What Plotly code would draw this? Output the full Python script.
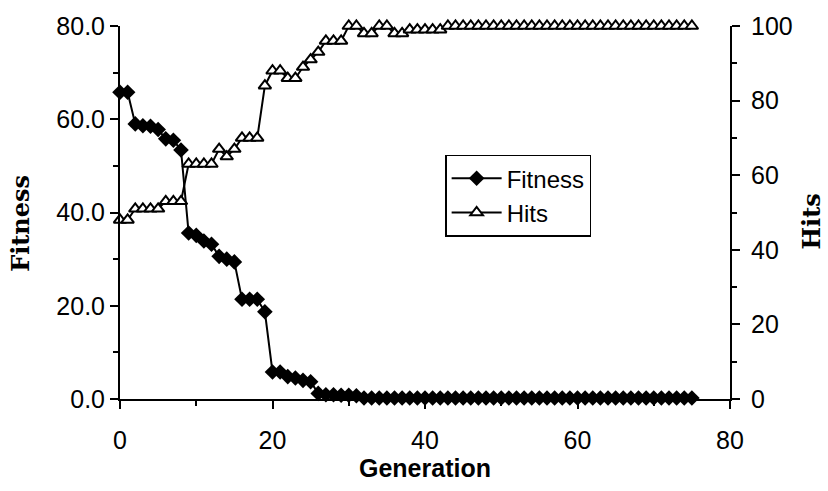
import plotly.graph_objects as go

# Generation index of each sample
generations = list(range(76))

# Best-of-generation fitness (left axis)
fitness = [
    65.8, 65.8, 59.0, 58.6, 58.5, 57.8, 55.8, 55.5, 53.4, 35.6,
    35.1, 33.9, 33.2, 30.6, 30.0, 29.4, 21.4, 21.4, 21.4, 18.7,
    5.8, 5.8, 4.8, 4.5, 4.0, 3.7, 1.2, 0.9, 0.9, 0.8,
    0.8, 0.7, 0.2, 0.2, 0.2, 0.2, 0.2, 0.2, 0.2, 0.2,
    0.2, 0.2, 0.2, 0.2, 0.2, 0.2, 0.2, 0.2, 0.2, 0.2,
    0.2, 0.2, 0.2, 0.2, 0.2, 0.2, 0.2, 0.2, 0.2, 0.2,
    0.2, 0.2, 0.2, 0.2, 0.2, 0.2, 0.2, 0.2, 0.2, 0.2,
    0.2, 0.2, 0.2, 0.2, 0.2, 0.2,
]

# Number of hits (right axis)
hits = [
    48, 48, 51, 51, 51, 51, 53, 53, 53, 63,
    63, 63, 63, 67, 65, 67, 70, 70, 70, 84,
    88, 88, 86, 86, 89, 91, 93, 96, 96, 96,
    100, 100, 98, 98, 100, 100, 98, 98, 99, 99,
    99, 99, 99, 100, 100, 100, 100, 100, 100, 100,
    100, 100, 100, 100, 100, 100, 100, 100, 100, 100,
    100, 100, 100, 100, 100, 100, 100, 100, 100, 100,
    100, 100, 100, 100, 100, 100,
]

left_ticks = [0, 20, 40, 60, 80]
right_ticks = [0, 20, 40, 60, 80, 100]
x_ticks = [0, 20, 40, 60, 80]

SANS = "Arial, Liberation Sans, sans-serif"
SERIF = "DejaVu Serif, serif"
TICK_FONT = dict(family=SANS, size=25, color="black")

fig = go.Figure()

fig.add_trace(go.Scatter(
    x=generations, y=fitness, name="Fitness", mode="lines+markers",
    line=dict(color="black", width=2),
    marker=dict(symbol="diamond", size=12, color="black"),
    cliponaxis=False, yaxis="y",
))
fig.add_trace(go.Scatter(
    x=generations, y=hits, name="Hits", mode="lines+markers",
    line=dict(color="black", width=2),
    marker=dict(symbol="triangle-up", size=11, color="white",
                line=dict(color="black", width=2)),
    cliponaxis=False, yaxis="y2",
))

axis_common = dict(
    showline=True, linecolor="black", linewidth=2,
    ticks="outside", ticklen=8, tickwidth=2, tickcolor="black",
    showgrid=False, zeroline=False, tickfont=TICK_FONT,
    minor=dict(ticks="outside", dtick=10, ticklen=5, tickwidth=2,
               tickcolor="black", showgrid=False),
)

fig.update_layout(
    width=828, height=491,
    margin=dict(l=120, r=98, t=20, b=92),
    paper_bgcolor="white", plot_bgcolor="white",
    showlegend=True,
    xaxis=dict(range=[0, 80], tickvals=x_ticks, ticklabelstandoff=10,
               **axis_common),
    yaxis=dict(range=[0, 80], tickvals=left_ticks,
               ticktext=[f"{v:.1f}" for v in left_ticks], **axis_common),
    yaxis2=dict(range=[0, 100], tickvals=right_ticks, overlaying="y",
                side="right", ticklabelstandoff=6, **axis_common),
    legend=dict(
        x=0.533, y=0.655, xanchor="left", yanchor="top",
        bordercolor="black", borderwidth=1.5, bgcolor="white",
        itemwidth=50,
        font=dict(family=SANS, size=24, color="black"),
    ),
    annotations=[
        dict(text="<b>Generation</b>", xref="paper", yref="paper",
             x=0.5, y=-0.186, xanchor="center", yanchor="middle",
             showarrow=False, font=dict(family=SANS, size=25, color="black")),
        dict(text="<b>Fitness</b>", xref="paper", yref="paper",
             x=-0.162, y=0.47, xanchor="center", yanchor="middle",
             textangle=-90, showarrow=False,
             font=dict(family=SERIF, size=24, color="black")),
        dict(text="<b>Hits</b>", xref="paper", yref="paper",
             x=1.134, y=0.475, xanchor="center", yanchor="middle",
             textangle=-90, showarrow=False,
             font=dict(family=SERIF, size=24, color="black")),
    ],
)

fig.write_html("out.html")
